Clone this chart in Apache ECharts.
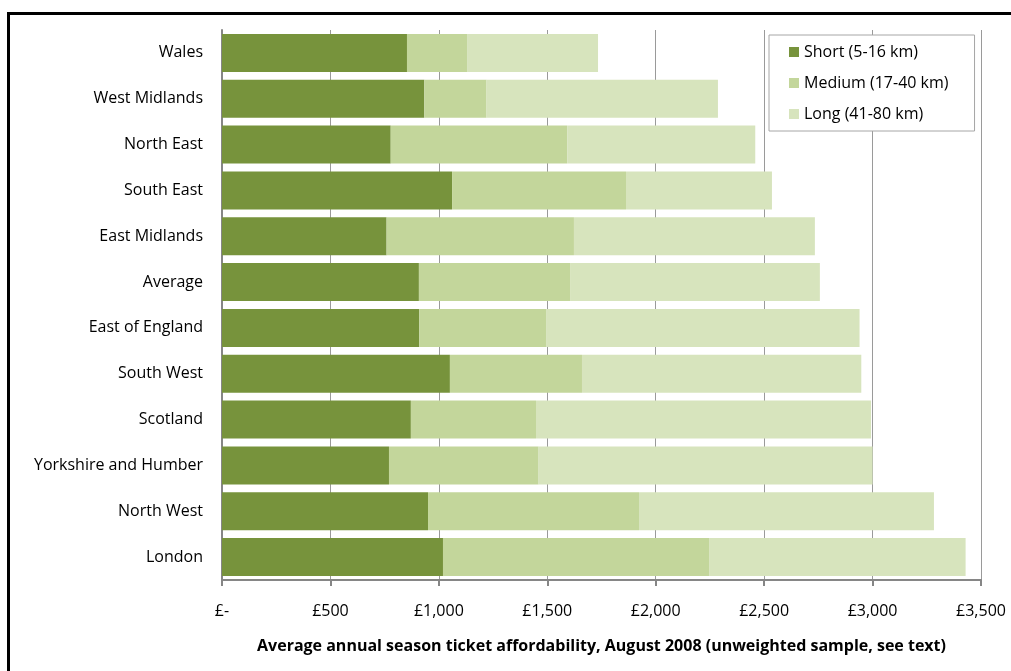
<!DOCTYPE html>
<html>
<head>
<meta charset="utf-8">
<script src="https://cdn.jsdelivr.net/npm/echarts@6/dist/echarts.min.js"></script>
<style>
  html, body { margin: 0; padding: 0; background: #fff; }
  #chart { width: 1011px; height: 671px; }
</style>
</head>
<body>
<div id="chart"></div>
<script>
// regions, top to bottom
const regions = ['Wales', 'West Midlands', 'North East', 'South East', 'East Midlands', 'Average',
    'East of England', 'South West', 'Scotland', 'Yorkshire and Humber', 'North West', 'London'];

// £ per year
const shortKm  = [853, 933, 778, 1061, 759, 908, 910, 1051, 871, 770, 950, 1019];
const mediumKm = [277, 287, 814, 802, 864, 697, 587, 609, 577, 690, 973, 1227];
const longKm   = [604, 1067, 867, 673, 1111, 1152, 1443, 1288, 1545, 1540, 1360, 1183];

const seriesNames = ['Short (5-16 km)', 'Medium (17-40 km)', 'Long (41-80 km)'];
const seriesColors = ['#77933c', '#c3d69b', '#d7e4bd'];

const xTicks = [0, 500, 1000, 1500, 2000, 2500, 3000, 3500];
const axisTitle = 'Average annual season ticket affordability, August 2008 (unweighted sample, see text)';

const FONT = 'Open Sans';

const fmtPound = v => v === 0 ? '£-' : '£' + v.toLocaleString('en-GB');

const chart = echarts.init(document.getElementById('chart'));

const dataSets = [shortKm, mediumKm, longKm];
const series = dataSets.map((arr, i) => ({
    type: 'bar',
    name: seriesNames[i],
    stack: 'total',
    data: arr,
    barWidth: 38,
    itemStyle: { color: seriesColors[i] },
    emphasis: { disabled: true }
}));

chart.setOption({
    animation: false,
    textStyle: { fontFamily: FONT },
    graphic: [{
        type: 'rect',
        shape: { x: 8.5, y: 13.5, width: 1020, height: 680 },
        style: { fill: null, stroke: '#000', lineWidth: 3 },
        silent: true
    }],
    grid: { left: 222, right: 30, top: 30, bottom: 91 },
    legend: {
        orient: 'vertical',
        left: 769,
        top: 35,
        padding: [9, 26, 9, 20],
        itemWidth: 10,
        itemHeight: 10,
        itemGap: 15,
        borderColor: '#a6a6a6',
        borderWidth: 1,
        backgroundColor: '#fff',
        icon: 'rect',
        textStyle: { fontFamily: FONT, fontSize: 16, color: '#000' },
        data: seriesNames
    },
    xAxis: {
        type: 'value',
        min: 0,
        max: xTicks[xTicks.length - 1],
        interval: xTicks[1] - xTicks[0],
        name: axisTitle,
        nameLocation: 'middle',
        nameGap: 58,
        nameTextStyle: { fontFamily: FONT, fontSize: 16, fontWeight: 'bold', color: '#000' },
        axisLine: { show: true, lineStyle: { color: '#868686', width: 2 } },
        axisTick: { show: true, length: 6, lineStyle: { color: '#868686', width: 2 } },
        axisLabel: { formatter: fmtPound, fontSize: 16, color: '#000', margin: 23 },
        splitLine: { show: true, lineStyle: { color: '#9a9a9a', width: 1 } }
    },
    yAxis: {
        type: 'category',
        data: regions,
        inverse: true,
        axisLine: { show: true, lineStyle: { color: '#868686', width: 2 } },
        axisTick: { show: false },
        axisLabel: { fontSize: 16, color: '#000', margin: 19 }
    },
    series: series
});
</script>
</body>
</html>
